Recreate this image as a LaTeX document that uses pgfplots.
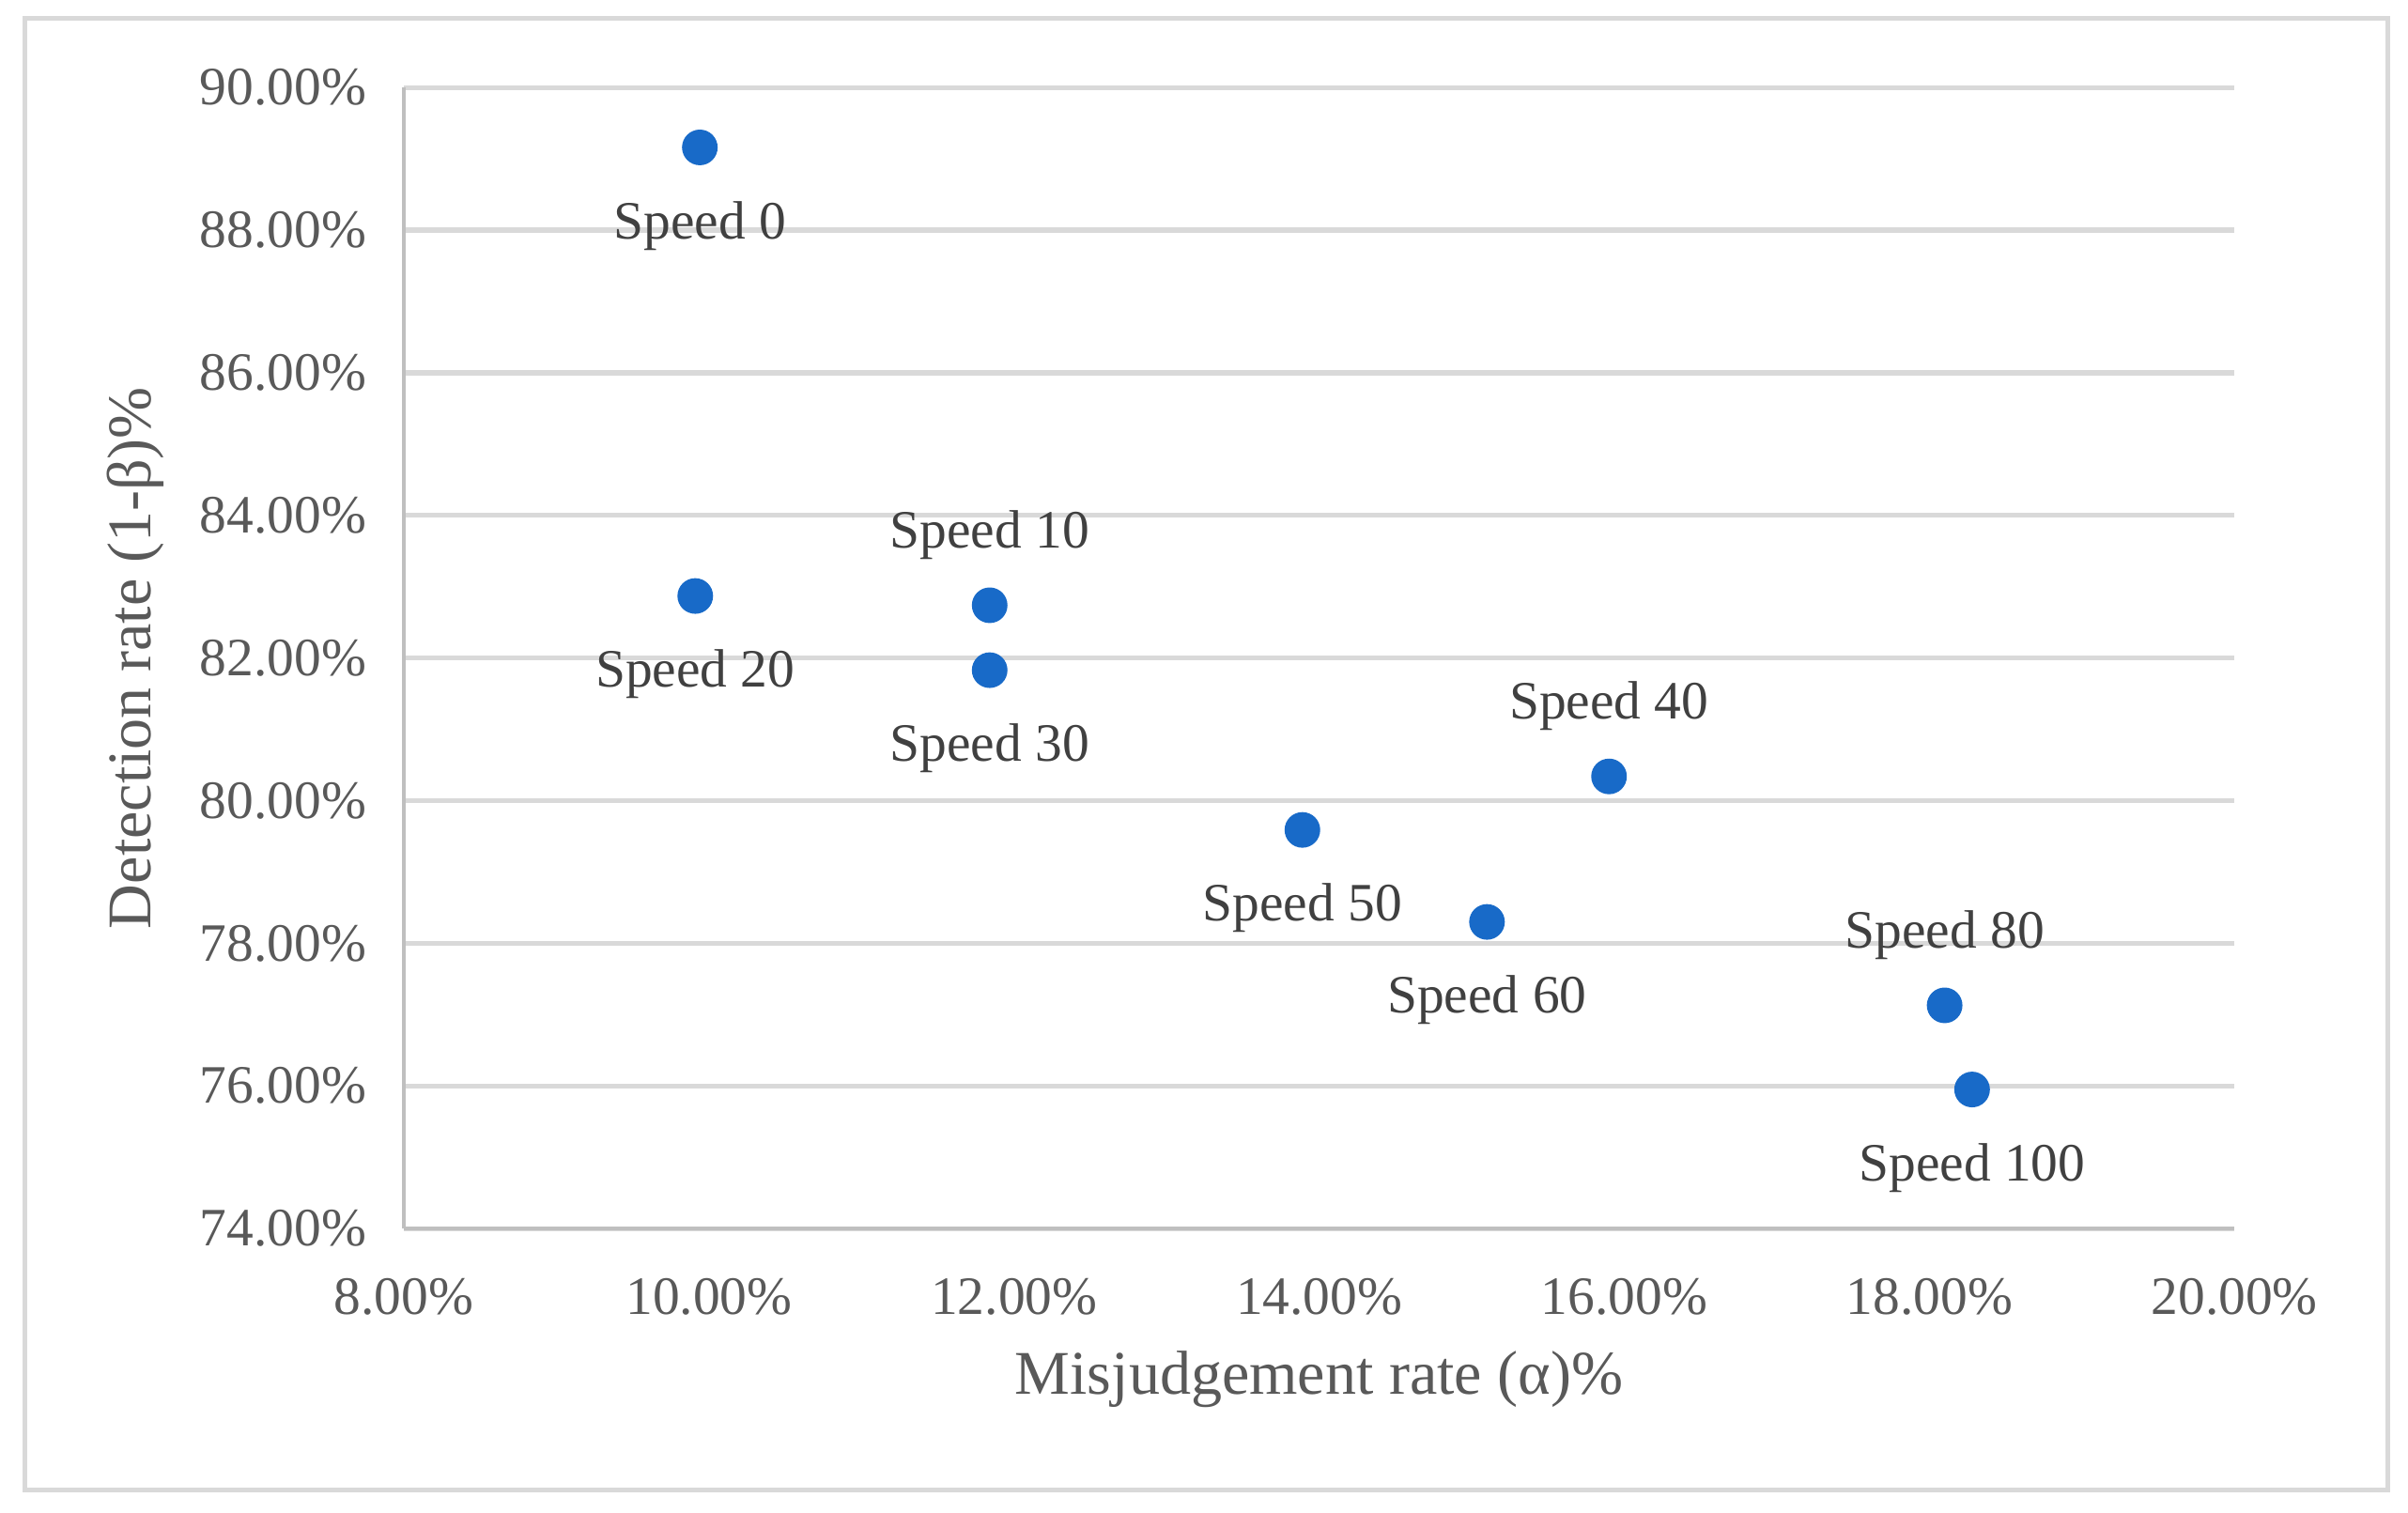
\documentclass[border=0pt]{standalone}
\usepackage{fontspec}
\setmainfont{Liberation Serif}
\usepackage{pgfplots}
\pgfplotsset{compat=1.18}
\definecolor{ptblue}{RGB}{24,106,200}
\definecolor{txtgrey}{RGB}{89,89,89}
\definecolor{lblgrey}{RGB}{64,64,64}
\definecolor{gridgrey}{RGB}{217,217,217}
\definecolor{axgrey}{RGB}{191,191,191}
\begin{document}
\begin{tikzpicture}
\useasboundingbox (-2.63cm,-1.85cm) rectangle (13.05cm,8.00cm);
% outer chart frame
\draw[gridgrey, line width=0.9pt] (-2.47cm,-1.70cm) rectangle (12.92cm,7.88cm);
\begin{axis}[
    scale only axis,
    width=11.92cm, height=7.43cm,
    xmin=8, xmax=20, ymin=74, ymax=90,
    xtick={8,10,...,20}, ytick={74,76,...,90},
    axis x line*=bottom, axis y line*=left,
    axis line style={-, draw=axgrey, line width=0.8pt},
    ymajorgrids=true,
    grid style={gridgrey, line width=0.9pt},
    major tick length=0pt,
    /pgf/number format/assume math mode=true,
    xticklabel={\pgfmathprintnumber[fixed,fixed zerofill,precision=2]{\tick}\%},
    yticklabel={\pgfmathprintnumber[fixed,fixed zerofill,precision=2]{\tick}\%},
    tick label style={text=txtgrey, font=\fontsize{10}{12}\selectfont},
    xticklabel style={yshift=-0.2cm},
    yticklabel style={xshift=-0.12cm},
    xlabel={Misjudgement rate (α)\%},
    ylabel={Detection rate (1-β)\%},
    label style={text=txtgrey, font=\fontsize{11.5}{14}\selectfont},
    xlabel style={at={(axis description cs:0.5,0)}, anchor=center, yshift=-0.98cm},
    ylabel style={at={(axis description cs:0,0.5)}, anchor=center, yshift=1.75cm},
    clip=false,
]
% points with label above
\addplot[only marks, mark=*, mark size=3.1pt, color=ptblue,
    point meta=explicit symbolic, nodes near coords,
    nodes near coords style={text=lblgrey, font=\fontsize{10}{12}\selectfont, anchor=center, yshift=4.6mm}]
coordinates {
    (11.84,82.74) [Speed 10]
    (15.90,80.34) [Speed 40]
    (18.10,77.13) [Speed 80]
};
% points with label below
\addplot[only marks, mark=*, mark size=3.1pt, color=ptblue,
    point meta=explicit symbolic, nodes near coords,
    nodes near coords style={text=lblgrey, font=\fontsize{10}{12}\selectfont, anchor=center, yshift=-5.1mm}]
coordinates {
    (9.94,89.16) [Speed 0]
    (9.91,82.87) [Speed 20]
    (11.84,81.83) [Speed 30]
    (13.89,79.59) [Speed 50]
    (15.10,78.30) [Speed 60]
    (18.28,75.95) [Speed 100]
};
\end{axis}
\end{tikzpicture}
\end{document}
